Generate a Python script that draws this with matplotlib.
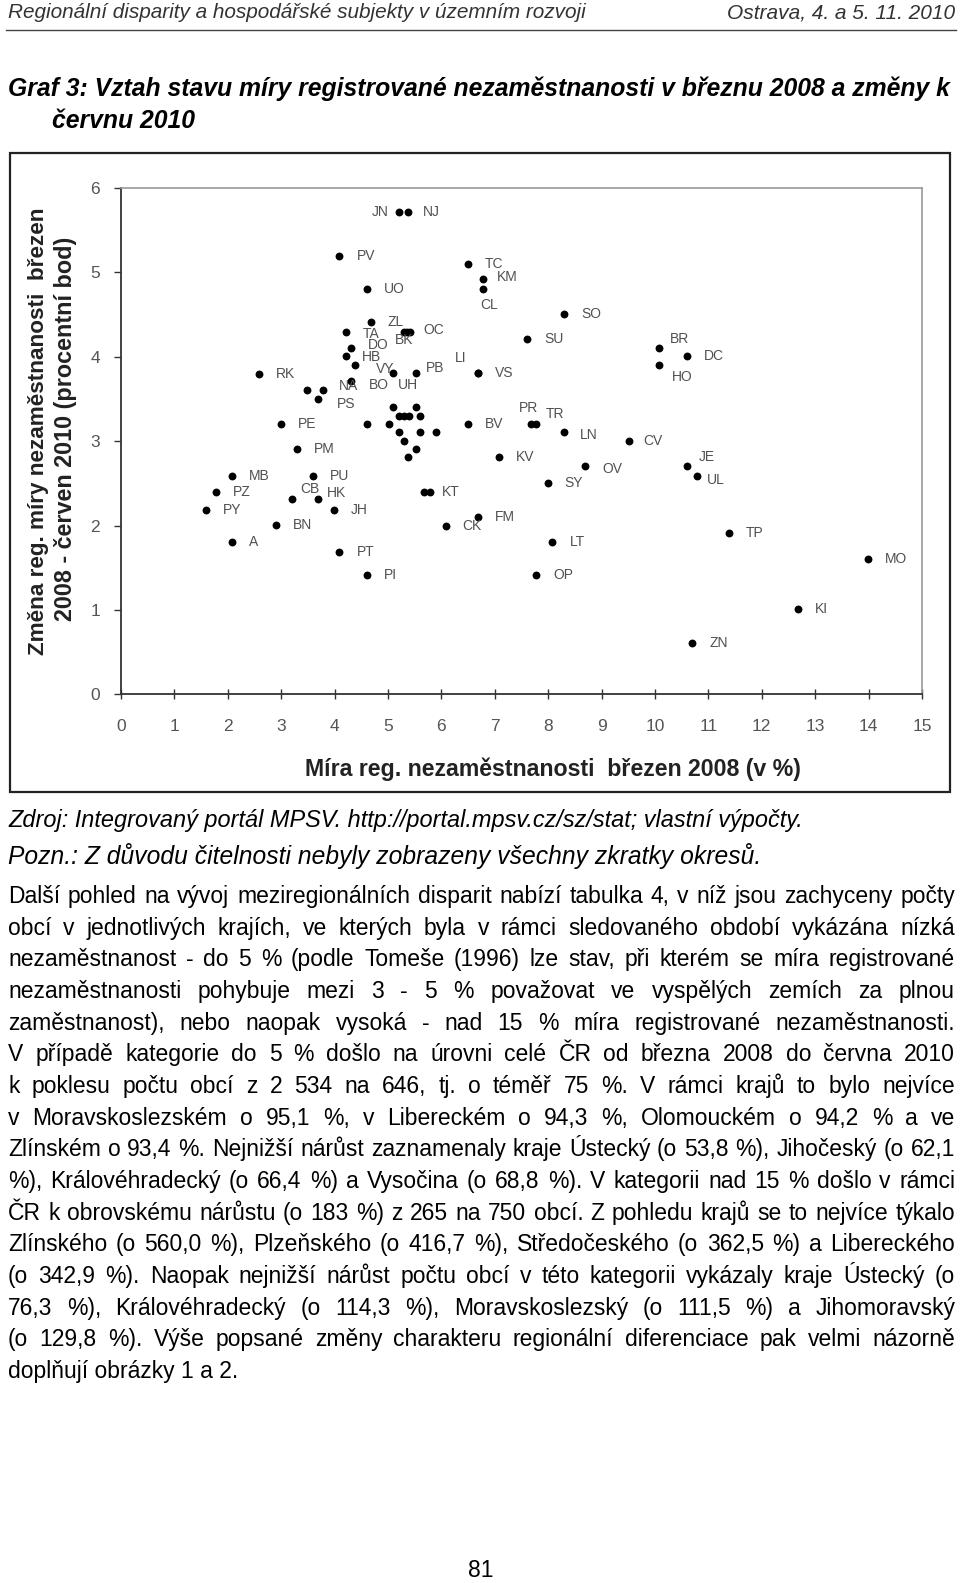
import matplotlib
matplotlib.use("Agg")
import matplotlib.pyplot as plt
from matplotlib.patches import Rectangle
from matplotlib.lines import Line2D

# okresy: zkratka, míra nezaměstnanosti 3/2008 (%), změna 3/2008-6/2010 (p.b.)
names = ["JN", "NJ", "PV", "UO", "ZL", "TA", "BK", "", "OC", "DO", "HB", "VY", "UH", "PB",
         "BO", "NA", "", "PS", "RK", "PE", "PM", "MB", "PU", "PZ", "CB", "HK", "PY", "JH",
         "BN", "A", "PT", "PI", "", "KT", "CK", "FM", "TC", "KM", "CL", "SO", "SU", "LI",
         "VS", "BV", "PR", "TR", "LN", "CV", "KV", "OV", "SY", "LT", "OP", "BR", "DC", "HO",
         "JE", "UL", "TP", "ZN", "KI", "MO",
         "", "", "", "", "", "", "", "", "", "", "", "", "", ""]
rate_2008 = [5.21, 5.38, 4.09, 4.60, 4.68, 4.21, 5.30, 5.36, 5.42, 4.31, 4.21, 4.38, 5.09, 5.52,
             4.30, 3.79, 3.48, 3.68, 2.59, 3.00, 3.29, 2.07, 3.60, 1.78, 3.21, 3.68, 1.59, 3.99,
             2.90, 2.07, 4.09, 4.60, 5.67, 5.79, 6.08, 6.69, 6.50, 6.77, 6.77, 8.30, 7.60, 6.69,
             6.69, 6.50, 7.68, 7.78, 8.30, 9.51, 7.08, 8.69, 7.99, 8.08, 7.77, 10.08, 10.59, 10.08,
             10.59, 10.78, 11.39, 10.70, 12.67, 13.98,
             5.09, 5.52, 5.21, 5.30, 5.39, 5.60, 4.60, 5.01, 5.21, 5.60, 5.90, 5.30, 5.52, 5.38]
change = [5.72, 5.72, 5.20, 4.80, 4.41, 4.30, 4.30, 4.30, 4.30, 4.11, 4.01, 3.90, 3.81, 3.81,
          3.71, 3.61, 3.61, 3.50, 3.80, 3.21, 2.91, 2.59, 2.59, 2.40, 2.31, 2.31, 2.19, 2.19,
          2.01, 1.81, 1.69, 1.41, 2.40, 2.40, 2.00, 2.10, 5.10, 4.92, 4.80, 4.51, 4.21, 3.81,
          3.81, 3.20, 3.21, 3.21, 3.11, 3.00, 2.81, 2.71, 2.50, 1.81, 1.41, 4.11, 4.01, 3.90,
          2.71, 2.59, 1.91, 0.61, 1.01, 1.60,
          3.40, 3.40, 3.30, 3.30, 3.30, 3.30, 3.21, 3.21, 3.11, 3.11, 3.11, 3.00, 2.91, 2.81]

x_ticks = list(range(0, 16))
y_ticks = list(range(0, 7))

header_left = "Regionální disparity a hospodářské subjekty v územním rozvoji"
header_right = "Ostrava, 4. a 5. 11. 2010"
title_1 = "Graf 3: Vztah stavu míry registrované nezaměstnanosti v březnu 2008 a změny k"
title_2 = "červnu 2010"
x_label = "Míra reg. nezaměstnanosti  březen 2008 (v %)"
y_label_1 = "Změna reg. míry nezaměstnanosti  březen"
y_label_2 = "2008 - červen 2010 (procentní bod)"
source = "Zdroj: Integrovaný portál MPSV. http://portal.mpsv.cz/sz/stat; vlastní výpočty."
note = "Pozn.: Z důvodu čitelnosti nebyly zobrazeny všechny zkratky okresů."
paragraph = [
    "Další pohled na vývoj meziregionálních disparit nabízí tabulka 4, v níž jsou zachyceny počty",
    "obcí v jednotlivých krajích, ve kterých byla v rámci sledovaného období vykázána nízká",
    "nezaměstnanost - do 5 % (podle Tomeše (1996) lze stav, při kterém se míra registrované",
    "nezaměstnanosti pohybuje mezi 3 - 5 % považovat ve vyspělých zemích za plnou",
    "zaměstnanost), nebo naopak vysoká - nad 15 % míra registrované nezaměstnanosti.",
    "V případě kategorie do 5 % došlo na úrovni celé ČR od března 2008 do června 2010",
    "k poklesu počtu obcí z 2 534 na 646, tj. o téměř 75 %. V rámci krajů to bylo nejvíce",
    "v Moravskoslezském o 95,1 %, v Libereckém o 94,3 %, Olomouckém o 94,2 % a ve",
    "Zlínském o 93,4 %. Nejnižší nárůst zaznamenaly kraje Ústecký (o 53,8 %), Jihočeský (o 62,1",
    "%), Královéhradecký (o 66,4 %) a Vysočina (o 68,8 %). V kategorii nad 15 % došlo v rámci",
    "ČR k obrovskému nárůstu (o 183 %) z 265 na 750 obcí. Z pohledu krajů se to nejvíce týkalo",
    "Zlínského (o 560,0 %), Plzeňského (o 416,7 %), Středočeského (o 362,5 %) a Libereckého",
    "(o 342,9 %). Naopak nejnižší nárůst počtu obcí v této kategorii vykázaly kraje Ústecký (o",
    "76,3 %), Královéhradecký (o 114,3 %), Moravskoslezský (o 111,5 %) a Jihomoravský",
    "(o 129,8 %). Výše popsané změny charakteru regionální diferenciace pak velmi názorně",
    "doplňují obrázky 1 a 2.",
]
page_no = "81"

# posuny popisků (px vpravo, px dolů), ostatní +17, 0
label_shift = {"JN": (-27, 0), "NJ": (15, 0), "TA": (17, 2), "BK": (-9, 8), "OC": (13, -2),
               "DO": (17, -3), "HB": (16, 1), "VY": (21, 4), "UH": (5, 12), "PB": (10, -5),
               "BO": (18, 4), "NA": (15, -4), "PS": (19, 5), "CB": (8, -10), "HK": (9, -6),
               "KT": (12, 0), "KM": (14, -2), "CL": (-2, 16), "LI": (-23, -15),
               "PR": (-12, -16), "TR": (9, -10), "LN": (16, 3), "CV": (14, 0), "OV": (17, 3),
               "JE": (12, -9), "UL": (10, 4), "BR": (11, -9), "HO": (13, 12)}

W, H = 960, 1583
fig = plt.figure(figsize=(W / 100, H / 100), dpi=100)
fig.patch.set_facecolor("white")
renderer = fig.canvas.get_renderer()


def fx(px):
    return px / W


def fy(py):
    return 1 - py / H


def fit(t, target, vertical=False):
    bb = t.get_window_extent(renderer)
    size = bb.height if vertical else bb.width
    t.set_fontsize(t.get_fontsize() * target / size)
    return t


SANS = "Liberation Sans"

# záhlaví stránky
fit(fig.text(fx(8), fy(13), header_left, family=SANS, style="italic", color="#333333",
             va="center", ha="left", fontsize=12), 580)
fit(fig.text(fx(955), fy(13), header_right, family=SANS, style="italic", color="#333333",
             va="center", ha="right", fontsize=12), 228)
fig.add_artist(Line2D([fx(6), fx(956)], [fy(30), fy(30)], color="#444444", lw=1))

# nadpis
t1 = fit(fig.text(fx(8), fy(89), title_1, family=SANS, style="italic", weight="bold",
                  va="center", ha="left", fontsize=14), 943)
fig.text(fx(52), fy(121), title_2, family=SANS, style="italic", weight="bold",
         va="center", ha="left", fontsize=t1.get_fontsize())

# rámeček grafu
fig.add_artist(Rectangle((fx(10), fy(792)), fx(950) - fx(10), fy(153) - fy(792),
                         fill=False, edgecolor="#222222", lw=1.6))

ax = fig.add_axes([fx(121), fy(694.5), fx(922) - fx(121), fy(188) - fy(694.5)])
ax.scatter(rate_2008, change, s=32, color="black", zorder=3, linewidths=0)
for n, x, y in zip(names, rate_2008, change):
    if not n:
        continue
    dx, dy = label_shift.get(n, (17, 0))
    ax.annotate(n, (x, y), xytext=(dx, -dy), textcoords="offset pixels", ha="left",
                va="center", family=SANS, fontsize=10, color="#505050")

ax.set_xlim(0, 15)
ax.set_ylim(0, 6)
ax.set_xticks(x_ticks)
ax.set_yticks(y_ticks)
for side in ["top", "right"]:
    ax.spines[side].set_color("#999999")
    ax.spines[side].set_linewidth(1.2)
for side in ["left", "bottom"]:
    ax.spines[side].set_color("#333333")
    ax.spines[side].set_linewidth(1.3)
ax.tick_params(axis="x", direction="inout", length=7, width=1, color="#333333", pad=14,
               labelsize=12.5, labelcolor="#555555")
ax.tick_params(axis="y", direction="out", length=5, width=1, color="#333333", pad=10,
               labelsize=12.5, labelcolor="#555555")
for lab in ax.get_xticklabels() + ax.get_yticklabels():
    lab.set_family(SANS)

fit(fig.text(fx(553), fy(769), x_label, family=SANS, weight="bold", color="#222222",
             ha="center", va="center", fontsize=14), 497)
fit(fig.text(fx(38.5), fy(431), y_label_1, family=SANS, weight="bold", color="#222222",
             ha="center", va="center", rotation=90, fontsize=14), 449, vertical=True)
fit(fig.text(fx(65.5), fy(429), y_label_2, family=SANS, weight="bold", color="#222222",
             ha="center", va="center", rotation=90, fontsize=14), 384, vertical=True)

# zdroj a poznámka
fit(fig.text(fx(8), fy(820), source, family=SANS, style="italic", va="center", ha="left",
             fontsize=12), 794)
fit(fig.text(fx(8), fy(856), note, family=SANS, style="italic", va="center", ha="left",
             fontsize=12), 751)

# odstavec, do bloku
PFONT = SANS
left, right = 8, 955
width = right - left
base = 12
sizes = []
for line in paragraph[:-1]:
    t = fig.text(0, 0, line, family=PFONT, fontsize=base)
    sizes.append(base * width * 0.995 / t.get_window_extent(renderer).width)
    t.remove()
psize = min(sizes)
y0, step = 903, 31.67
for i, line in enumerate(paragraph):
    yy = fy(y0 + i * step)
    if i == len(paragraph) - 1:
        fig.text(fx(left), yy, line, family=PFONT, fontsize=psize, va="baseline", ha="left")
        continue
    words = line.split(" ")
    texts = [fig.text(0, yy, w, family=PFONT, fontsize=psize, va="baseline", ha="left")
             for w in words]
    widths = [t.get_window_extent(renderer).width for t in texts]
    gap = (width - sum(widths)) / (len(words) - 1)
    xpos = left
    for t, w in zip(texts, widths):
        t.set_x(fx(xpos))
        xpos += w + gap

fig.text(fx(481), fy(1577), page_no, family=PFONT, fontsize=psize, ha="center", va="baseline")

fig.savefig("out.png", dpi=100)
